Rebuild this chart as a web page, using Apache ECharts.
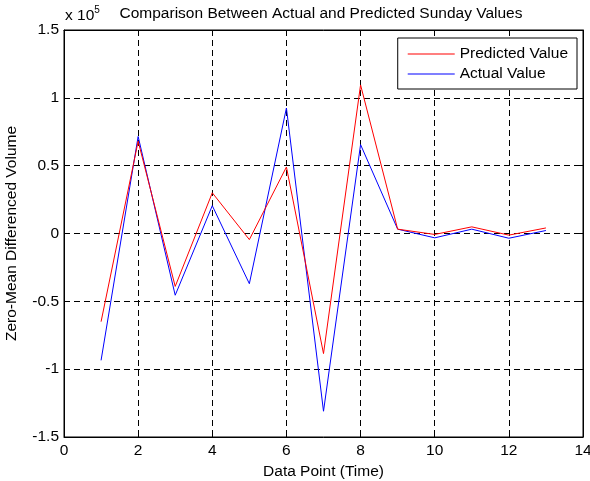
<!DOCTYPE html>
<html>
<head>
<meta charset="utf-8">
<script src="https://cdn.jsdelivr.net/npm/echarts@6/dist/echarts.min.js"></script>
<style>
  html, body { margin: 0; padding: 0; background: #fff; }
  #chart { width: 590px; height: 481px; }
</style>
</head>
<body>
<div id="chart"></div>
<script>
// data points (x = 1..13), values in raw units (axis shows x 10^5)
const points = [1, 2, 3, 4, 5, 6, 7, 8, 9, 10, 11, 12, 13];
const predicted = [-65000, 68000, -39000, 30000, -4500, 49000, -88500, 109500, 3200, -700, 4900, -1200, 4100];
const actual = [-93500, 71500, -45500, 20500, -37000, 92500, -131000, 65500, 3200, -3200, 3200, -3500, 2200];
const seriesNames = ["Predicted Value", "Actual Value"];

const font = "'Liberation Sans', Arial, sans-serif";
const fs = 15.5;
const chart = echarts.init(document.getElementById("chart"));

function pairs(ys) {
  return points.map((x, i) => [x, ys[i]]);
}

const gridDash = { color: "#000", width: 1, type: [6, 4] };

chart.setOption({
  animation: false,
  backgroundColor: "#fff",
  title: {
    text: "Comparison Between Actual and Predicted Sunday Values",
    left: 316,
    top: 1,
    textAlign: "center",
    textStyle: { fontFamily: font, fontSize: fs, fontWeight: "normal", color: "#000" }
  },
  legend: {
    orient: "vertical",
    right: 13,
    top: 38,
    padding: [8, 9, 7, 10],
    itemGap: 4,
    itemWidth: 47,
    itemHeight: 1,
    icon: "rect",
    borderColor: "#000",
    borderWidth: 1,
    borderRadius: 0,
    backgroundColor: "#fff",
    textStyle: { fontFamily: font, fontSize: fs, color: "#000" },
    data: seriesNames
  },
  graphic: [{
    type: "text",
    left: 65,
    top: 5,
    style: {
      text: "{a|x 10}{b|5}",
      rich: {
        a: { fontFamily: font, fontSize: fs, fill: "#000", padding: [6, 0, 0, 0] },
        b: { fontFamily: font, fontSize: 10, fill: "#000", padding: [0, 0, 6, 0] }
      }
    }
  }],
  grid: {
    left: 64, right: 7, top: 30, bottom: 44,
    outerBoundsMode: "none",
    containLabel: false,
    show: true, borderColor: "#000", borderWidth: 1
  },
  xAxis: [{
    type: "value",
    min: 0, max: 14, interval: 2,
    name: "Data Point (Time)",
    nameLocation: "middle",
    nameGap: 27,
    nameTextStyle: { fontFamily: font, fontSize: fs, color: "#000" },
    axisLine: { show: true, onZero: false, lineStyle: { color: "#000" } },
    axisTick: { show: true, inside: true, length: 5, lineStyle: { color: "#000" } },
    axisLabel: { fontFamily: font, fontSize: fs, color: "#000", margin: 6 },
    splitLine: { show: true, lineStyle: gridDash }
  }, {
    type: "value", position: "top",
    min: 0, max: 14, interval: 2,
    axisLine: { show: true, onZero: false, lineStyle: { color: "#000" } },
    axisTick: { show: true, inside: true, length: 5, lineStyle: { color: "#000" } },
    axisLabel: { show: false },
    splitLine: { show: false }
  }],
  yAxis: [{
    type: "value",
    min: -150000, max: 150000, interval: 50000,
    name: "Zero-Mean Differenced Volume",
    nameLocation: "middle",
    nameGap: 44,
    nameTextStyle: { fontFamily: font, fontSize: fs, color: "#000" },
    axisLine: { show: true, onZero: false, lineStyle: { color: "#000" } },
    axisTick: { show: true, inside: true, length: 5, lineStyle: { color: "#000" } },
    axisLabel: {
      fontFamily: font, fontSize: fs, color: "#000", margin: 5,
      formatter: v => String(Math.round(v / 1e4) / 10)
    },
    splitLine: { show: true, lineStyle: gridDash }
  }, {
    type: "value", position: "right",
    min: -150000, max: 150000, interval: 50000,
    axisLine: { show: true, onZero: false, lineStyle: { color: "#000" } },
    axisTick: { show: true, inside: true, length: 5, lineStyle: { color: "#000" } },
    axisLabel: { show: false },
    splitLine: { show: false }
  }],
  series: [{
    name: seriesNames[0],
    type: "line",
    data: pairs(predicted),
    symbol: "none",
    lineStyle: { color: "#ff0000", width: 1 },
    itemStyle: { color: "#ff0000" },
    z: 3
  }, {
    name: seriesNames[1],
    type: "line",
    data: pairs(actual),
    symbol: "none",
    lineStyle: { color: "#0000ff", width: 1 },
    itemStyle: { color: "#0000ff" },
    z: 2
  }]
});
</script>
</body>
</html>
